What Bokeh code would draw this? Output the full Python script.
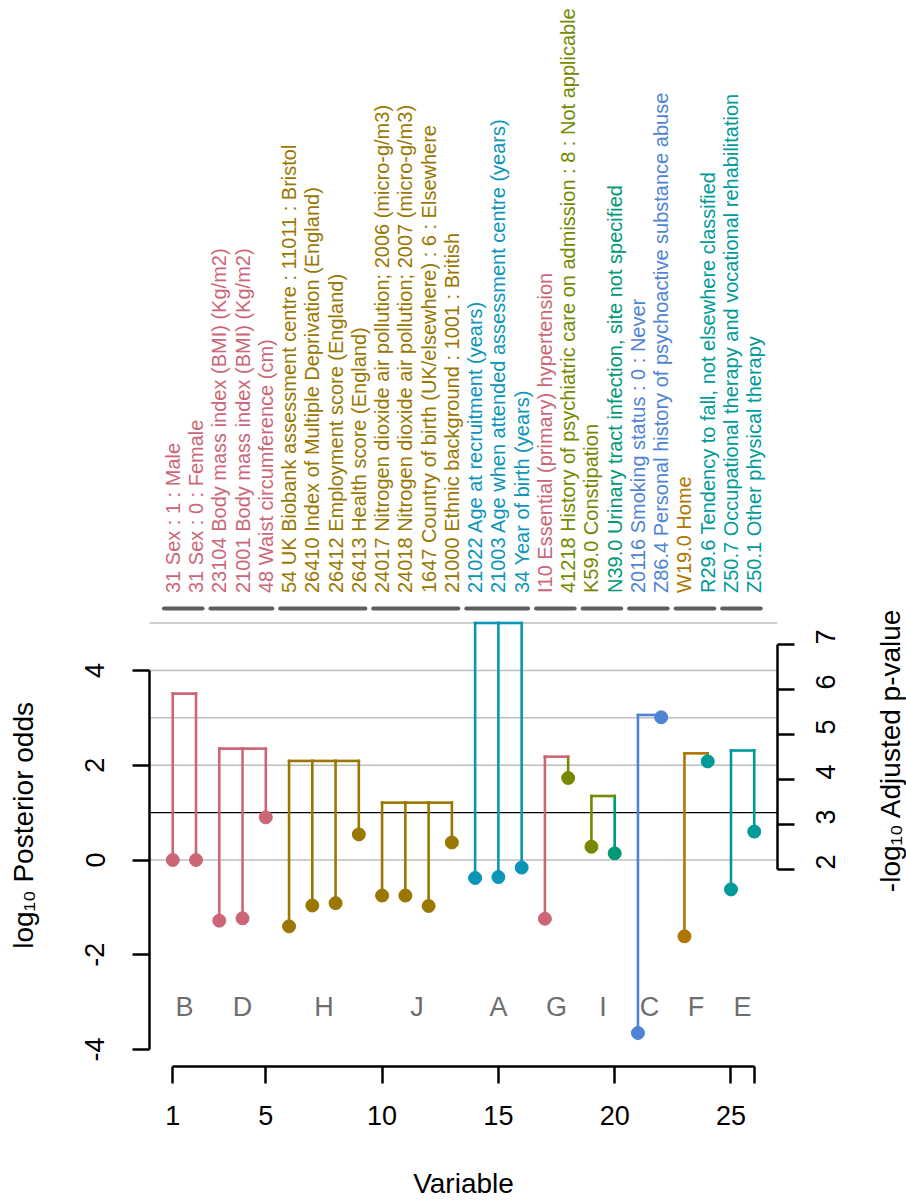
from math import pi
from bokeh.plotting import figure
from bokeh.layouts import row
from bokeh.models import Range1d, LinearAxis, FixedTicker
from bokeh.core.properties import value
from bokeh.embed import file_html
from bokeh.resources import INLINE

# ---------------- data ----------------
variables = list(range(1, 27))
var_labels = [
    "31 Sex : 1 : Male",
    "31 Sex : 0 : Female",
    "23104 Body mass index (BMI) (Kg/m2)",
    "21001 Body mass index (BMI) (Kg/m2)",
    "48 Waist circumference (cm)",
    "54 UK Biobank assessment centre : 11011 : Bristol",
    "26410 Index of Multiple Deprivation (England)",
    "26412 Employment score (England)",
    "26413 Health score (England)",
    "24017 Nitrogen dioxide air pollution; 2006 (micro-g/m3)",
    "24018 Nitrogen dioxide air pollution; 2007 (micro-g/m3)",
    "1647 Country of birth (UK/elsewhere) : 6 : Elsewhere",
    "21000 Ethnic background : 1001 : British",
    "21022 Age at recruitment (years)",
    "21003 Age when attended assessment centre (years)",
    "34 Year of birth (years)",
    "I10 Essential (primary) hypertension",
    "41218 History of psychiatric care on admission : 8 : Not applicable",
    "K59.0 Constipation",
    "N39.0 Urinary tract infection, site not specified",
    "20116 Smoking status : 0 : Never",
    "Z86.4 Personal history of psychoactive substance abuse",
    "W19.0 Home",
    "R29.6 Tendency to fall, not elsewhere classified",
    "Z50.7 Occupational therapy and vocational rehabilitation",
    "Z50.1 Other physical therapy",
]
log_odds = [0.00, 0.00, -1.28, -1.23, 0.90, -1.40, -0.96, -0.91, 0.54,
            -0.75, -0.75, -0.97, 0.37, -0.38, -0.36, -0.16, -1.24, 1.73,
            0.28, 0.14, -3.65, 3.01, -1.61, 2.08, -0.62, 0.60]
var_colors = ["#CC6677", "#CC6677", "#CC6677", "#CC6677", "#CC6677",
              "#997700", "#997700", "#997700", "#997700",
              "#997700", "#997700", "#997700", "#997700",
              "#0B95B9", "#0B95B9", "#0B95B9",
              "#CC6677", "#778800", "#778800", "#009977",
              "#4E84D4", "#4E84D4", "#AF7600", "#009A9A", "#009A9A", "#009A9A"]
clusters = ["B", "D", "H", "J", "A", "G", "I", "C", "F", "E"]
cluster_members = [[1, 2], [3, 4, 5], [6, 7, 8, 9], [10, 11, 12, 13], [14, 15, 16],
                   [17, 18], [19, 20], [21, 22], [23, 24], [25, 26]]
cluster_height = [3.51, 2.35, 2.09, 1.21, 5.0, 2.18, 1.35, 3.06, 2.25, 2.31]
grey_levels = [0, 2, 3, 4, 5]
black_levels = [1]
y_ticks = [-4, -2, 0, 2, 4]
x_ticks = [1, 5, 10, 15, 20, 25, 26]
p_ticks = [2, 3, 4, 5, 6, 7]

y_title = "log\u2081\u2080 Posterior odds"
p_title = "-log\u2081\u2080 Adjusted p-value"
x_title = "Variable"

# ---------------- layout ----------------
TOTAL_W, H = 906, 1201
LEFT_W, RIGHT_W = 60, 46
MAIN_W = TOTAL_W - LEFT_W - RIGHT_W
B_LEFT, B_RIGHT, B_TOP, B_BOTTOM = 89, 83, 3, 135
X_LO, X_HI = 0, 27
SY = 47.4            # px per log-odds unit
Y0 = 859.5           # canvas px of log-odds 0
SP = 45.0            # px per p-value unit
P2 = 869.0           # canvas px of p = 2
F_TOP, F_BOT = B_TOP, H - B_BOTTOM
FONT = "Liberation Sans"
STRIP_SHIFT = 99     # observed vertical offset of strip text


def yd(fy):
    return (Y0 - fy) / SY


y_lo, y_hi = yd(F_BOT), yd(F_TOP)
p_lo, p_hi = 2 + (P2 - F_BOT) / SP, 2 + (P2 - F_TOP) / SP

p = figure(width=MAIN_W, height=H, x_range=Range1d(X_LO, X_HI),
           y_range=Range1d(y_lo, y_hi), output_backend="svg",
           toolbar_location=None, min_border_left=B_LEFT,
           min_border_right=B_RIGHT, min_border_top=B_TOP,
           min_border_bottom=B_BOTTOM, background_fill_color="white",
           border_fill_color="white")
p.outline_line_color = None
p.xgrid.visible = False
p.ygrid.visible = False
p.extra_y_ranges = {"p": Range1d(p_lo, p_hi)}


def style_axis(ax, standoff):
    ax.axis_line_width = 2.5
    ax.axis_line_color = "black"
    ax.major_tick_line_width = 2.5
    ax.major_tick_line_color = "black"
    ax.major_tick_out = 17
    ax.major_tick_in = 0
    ax.minor_tick_out = 0
    ax.minor_tick_in = 0
    ax.major_label_text_font = FONT
    ax.major_label_text_font_size = "27px"
    ax.major_label_text_color = "black"
    ax.major_label_standoff = standoff


yax = p.yaxis[0]
yax.ticker = FixedTicker(ticks=y_ticks)
yax.bounds = (min(y_ticks), max(y_ticks))
yax.major_label_overrides = {t: str(t) for t in y_ticks}
yax.major_label_orientation = "vertical"
style_axis(yax, 28)

xax = p.xaxis[0]
xax.ticker = FixedTicker(ticks=x_ticks)
xax.bounds = (min(x_ticks), max(x_ticks))
xax.major_label_overrides = {t: (str(t) if t != 26 else "") for t in x_ticks}
style_axis(xax, 22)
xax.axis_label = x_title
xax.axis_label_text_font = FONT
xax.axis_label_text_font_size = "28px"
xax.axis_label_text_font_style = "normal"
xax.axis_label_text_color = "black"
xax.axis_label_standoff = 40

rax = LinearAxis(y_range_name="p", ticker=FixedTicker(ticks=p_ticks))
rax.bounds = (min(p_ticks), max(p_ticks))
rax.major_label_overrides = {t: str(t) for t in p_ticks}
rax.major_label_orientation = pi / 2
style_axis(rax, 31)
p.add_layout(rax, "right")

# reference lines
p.segment(x0=[X_LO] * len(grey_levels), x1=[X_HI] * len(grey_levels),
          y0=grey_levels, y1=grey_levels, line_color="#BEBEBE", line_width=1.5)
p.segment(x0=[X_LO] * len(black_levels), x1=[X_HI] * len(black_levels),
          y0=black_levels, y1=black_levels, line_color="black", line_width=1.2)

# dendrogram-like brackets
sx0, sx1, sy0, sy1, scol = [], [], [], [], []
for members, h in zip(cluster_members, cluster_height):
    for v in members:
        sx0.append(v); sx1.append(v)
        sy0.append(log_odds[v - 1]); sy1.append(h)
        scol.append(var_colors[v - 1])
    for a, b in zip(members[:-1], members[1:]):
        sx0.append(a); sx1.append(b)
        sy0.append(h); sy1.append(h)
        scol.append(var_colors[a - 1])
p.segment(x0=sx0, x1=sx1, y0=sy0, y1=sy1, line_color=scol, line_width=2.6,
          line_cap="square")

p.scatter(x=variables, y=log_odds, size=13, fill_color=var_colors,
          line_color=var_colors, marker="circle")

# cluster letters
centers = [sum(m) / len(m) for m in cluster_members]
p.text(x=centers, y=[-3] * len(centers), text=clusters, text_font=value(FONT),
       text_font_size="27px", text_color="#6E6E6E", text_align="center",
       text_baseline="middle", y_offset=5)

# group bars under the labels
p.segment(x0=[min(m) - 0.38 for m in cluster_members],
          x1=[max(m) + 0.28 for m in cluster_members],
          y0=[yd(608)] * len(cluster_members), y1=[yd(608)] * len(cluster_members),
          line_color="#5E5E5E", line_width=4, line_cap="round")

# variable labels
p.text(x=variables, y=[yd(592.5)] * len(variables), text=var_labels,
       angle=pi / 2, text_font=value(FONT), text_font_size="20px",
       text_color=var_colors, text_align="left", text_baseline="middle")


# ---------------- side strips holding the vertical axis titles ----------------
def strip(width):
    f = figure(width=width, height=H, x_range=Range1d(0, width),
               y_range=Range1d(0, H), output_backend="svg",
               toolbar_location=None, min_border=0,
               x_axis_location=None, y_axis_location=None,
               background_fill_color="white", border_fill_color="white")
    f.outline_line_color = None
    f.xgrid.visible = False
    f.ygrid.visible = False
    return f


left = strip(LEFT_W)
left.text(x=[22.5], y=[H - 969 - STRIP_SHIFT], text=[y_title], angle=pi / 2,
          text_font=value(FONT), text_font_size="28px", text_color="black",
          text_align="left", text_baseline="middle")

right = strip(RIGHT_W)
right.text(x=[890 - (TOTAL_W - RIGHT_W)], y=[H - 905 - STRIP_SHIFT], text=[p_title],
           angle=pi / 2, text_font=value(FONT), text_font_size="28px",
           text_color="black", text_align="left", text_baseline="middle")

layout = row(left, p, right)
open("out.html", "w").write(file_html(layout, INLINE))
